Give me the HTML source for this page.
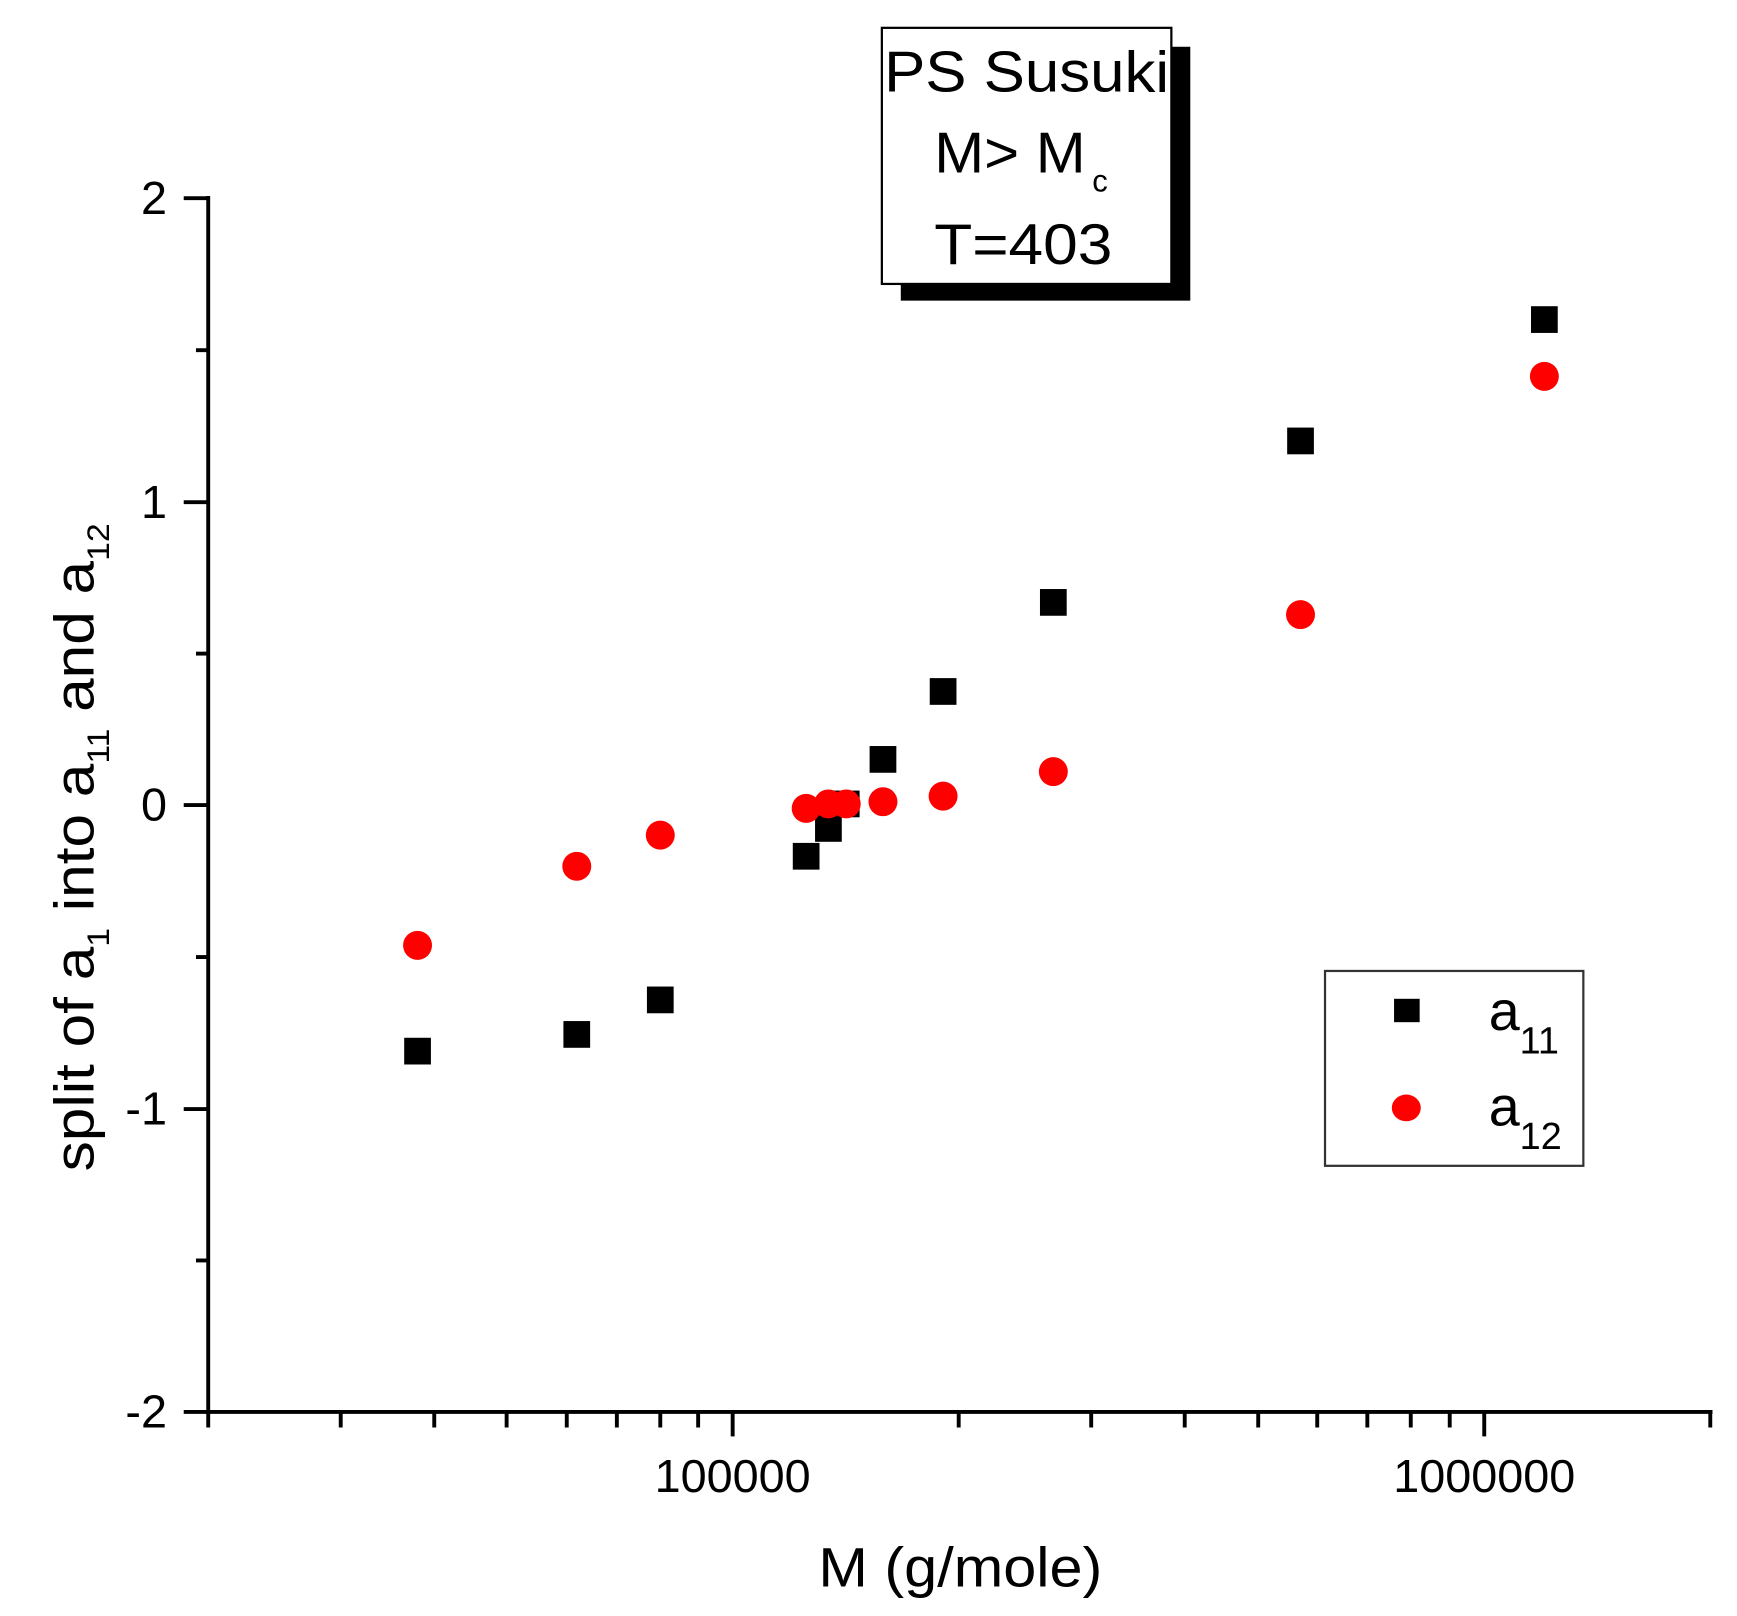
<!DOCTYPE html>
<html><head><meta charset="utf-8"><style>
html,body{margin:0;padding:0;background:#fff;}
svg{display:block;}
text{font-family:"Liberation Sans",Arial,sans-serif;fill:#000;}
</style></head><body>
<svg width="1737" height="1616" viewBox="0 0 1560 1451.3" preserveAspectRatio="none" xmlns="http://www.w3.org/2000/svg">
<rect width="1560" height="1452" fill="#fff"/>
<!-- title box -->
<rect x="809" y="42" width="260" height="228" fill="#000"/>
<rect x="792" y="25" width="260" height="230" fill="#fff" stroke="#000" stroke-width="2"/>
<text x="794" y="82" font-size="52" textLength="256" lengthAdjust="spacingAndGlyphs">PS Susuki</text>
<text x="839" y="155" font-size="52" textLength="136" lengthAdjust="spacingAndGlyphs">M&gt; M</text>
<text x="981" y="172" font-size="28">c</text>
<text x="839" y="237" font-size="52" textLength="160" lengthAdjust="spacingAndGlyphs">T=403</text>
<!-- axes -->
<g stroke="#000" stroke-width="3.5" fill="none">
<line x1="187" y1="176" x2="187" y2="1270"/>
<line x1="185" y1="1268" x2="1538" y2="1268"/>
<line x1="165" y1="178" x2="187" y2="178"/>
<line x1="165" y1="451" x2="187" y2="451"/>
<line x1="165" y1="723" x2="187" y2="723"/>
<line x1="165" y1="996" x2="187" y2="996"/>
<line x1="165" y1="1268" x2="187" y2="1268"/>
<line x1="176" y1="314.5" x2="187" y2="314.5"/>
<line x1="176" y1="587" x2="187" y2="587"/>
<line x1="176" y1="859.5" x2="187" y2="859.5"/>
<line x1="176" y1="1132" x2="187" y2="1132"/>
<line x1="187" y1="1268" x2="187" y2="1282"/>
<line x1="306" y1="1268" x2="306" y2="1282"/>
<line x1="390" y1="1268" x2="390" y2="1282"/>
<line x1="455" y1="1268" x2="455" y2="1282"/>
<line x1="509" y1="1268" x2="509" y2="1282"/>
<line x1="554" y1="1268" x2="554" y2="1282"/>
<line x1="593" y1="1268" x2="593" y2="1282"/>
<line x1="627" y1="1268" x2="627" y2="1282"/>
<line x1="658" y1="1268" x2="658" y2="1290"/>
<line x1="861" y1="1268" x2="861" y2="1282"/>
<line x1="980" y1="1268" x2="980" y2="1282"/>
<line x1="1064" y1="1268" x2="1064" y2="1282"/>
<line x1="1130" y1="1268" x2="1130" y2="1282"/>
<line x1="1183" y1="1268" x2="1183" y2="1282"/>
<line x1="1228" y1="1268" x2="1228" y2="1282"/>
<line x1="1267" y1="1268" x2="1267" y2="1282"/>
<line x1="1302" y1="1268" x2="1302" y2="1282"/>
<line x1="1333" y1="1268" x2="1333" y2="1290"/>
<line x1="1536" y1="1268" x2="1536" y2="1282"/>
</g>
<g font-size="42" text-anchor="end">
<text x="150" y="192">2</text>
<text x="150" y="465">1</text>
<text x="150" y="737">0</text>
<text x="150" y="1010">-1</text>
<text x="150" y="1282">-2</text>
</g>
<g font-size="42" text-anchor="middle">
<text x="658" y="1340">100000</text>
<text x="1333" y="1340">1000000</text>
</g>
<text x="735" y="1425" font-size="50" textLength="255" lengthAdjust="spacingAndGlyphs">M (g/mole)</text>
<text transform="translate(84,1052) rotate(-90)" font-size="50" textLength="582" lengthAdjust="spacingAndGlyphs">split of a<tspan font-size="28" dy="14">1</tspan><tspan dy="-14"> into a</tspan><tspan font-size="28" dy="14">11</tspan><tspan dy="-14"> and a</tspan><tspan font-size="28" dy="14">12</tspan></text>
<!-- squares -->
<g fill="#000">
<rect x="363" y="932" width="24" height="24"/>
<rect x="506" y="917" width="24" height="24"/>
<rect x="581" y="886" width="24" height="24"/>
<rect x="712" y="757" width="24" height="24"/>
<rect x="732" y="732" width="24" height="24"/>
<rect x="748" y="710" width="24" height="24"/>
<rect x="781" y="670" width="24" height="24"/>
<rect x="835" y="609" width="24" height="24"/>
<rect x="934" y="529" width="24" height="24"/>
<rect x="1156" y="384" width="24" height="24"/>
<rect x="1375" y="275" width="24" height="24"/>
</g>
<g fill="#f00">
<ellipse cx="375" cy="849" rx="13" ry="13"/>
<ellipse cx="518" cy="778" rx="13" ry="13"/>
<ellipse cx="593" cy="750" rx="13" ry="13"/>
<ellipse cx="724" cy="726" rx="13" ry="13"/>
<ellipse cx="744" cy="722" rx="13" ry="13"/>
<ellipse cx="760" cy="722" rx="13" ry="13"/>
<ellipse cx="793" cy="720" rx="13" ry="13"/>
<ellipse cx="847" cy="715" rx="13" ry="13"/>
<ellipse cx="946" cy="693" rx="13" ry="13"/>
<ellipse cx="1168" cy="552" rx="13" ry="13"/>
<ellipse cx="1387" cy="338" rx="13" ry="13"/>
</g>
<!-- legend -->
<rect x="1190" y="872" width="232" height="175" fill="#fff" stroke="#333" stroke-width="2"/>
<rect x="1252" y="897" width="23" height="21" fill="#000"/>
<ellipse cx="1263" cy="995" rx="13" ry="12" fill="#f00"/>
<text x="1337" y="925" font-size="50">a<tspan font-size="34" dy="21">11</tspan></text>
<text x="1337" y="1011" font-size="50">a<tspan font-size="34" dy="21">12</tspan></text>
</svg>
</body></html>
